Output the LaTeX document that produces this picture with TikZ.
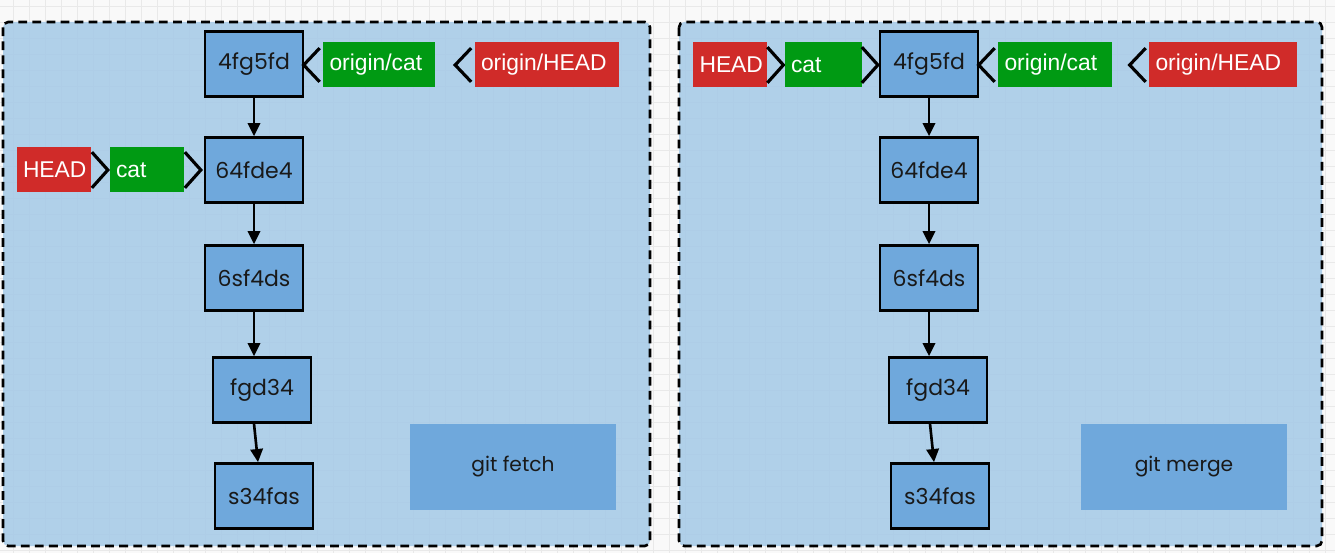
\documentclass[tikz,border=0pt]{standalone}
\usepackage{fontspec}
\setmainfont{Liberation Sans}
\newfontfamily\handfont{Poppins}
\usepackage{tikz}
\usetikzlibrary{arrows.meta}
\definecolor{paper}{HTML}{F9F9F9}
\definecolor{gridgray}{HTML}{E9E9E9}
\definecolor{panelblue}{HTML}{A4C9E7}
\definecolor{commitblue}{HTML}{6FA8DC}
\definecolor{tagred}{HTML}{D02B29}
\definecolor{taggreen}{HTML}{009A13}
\tikzset{
  commit/.style={draw, line width=1.5pt, fill=commitblue, minimum width=1.96cm, minimum height=1.3cm,
    inner sep=0pt, font=\handfont\fontsize{12.5}{14}\selectfont, text=black!90},
  tagbox/.style={inner xsep=0.13cm, inner ysep=0pt, minimum height=0.9cm, align=left, text=white,
    font=\fontsize{13}{15}\selectfont},
  chevron/.style={line width=1.8pt, line join=miter},
  panel/.style={dashed, dash pattern=on 5pt off 3pt, line width=1.5pt, rounded corners=3pt,
    fill=panelblue, fill opacity=0.85, draw opacity=1},
  cmdbox/.style={fill=commitblue, minimum width=4.14cm, minimum height=1.72cm,
    font=\handfont\fontsize{11.5}{13}\selectfont, text=black!90},
  gridline/.style={gridgray, line width=0.5pt},
  parent/.style={-{Triangle[length=7.5pt,width=7pt]}, line width=1.5pt}
}
\newcommand{\gcommit}[3] {\node at (#1) (#2) [commit] {#3};}
\newcommand{\gparent}[2] {\draw [parent] (#1) -- (#2);}
\newcommand{\tagright}[5] {\node at (#1) (#2) [tagbox, fill=#4, text width=#5] {#3};
  \draw [chevron] ([yshift=-0.1cm]#2.north east) -- ([xshift=0.32cm]#2.east) -- ([yshift=0.1cm]#2.south east);}
\newcommand{\tagleft}[5] {\node at (#1) (#2) [tagbox, fill=#4, text width=#5] {#3};
  \draw [chevron] ([xshift=-0.06cm,yshift=-0.12cm]#2.north west) -- ([xshift=-0.38cm]#2.west) -- ([xshift=-0.06cm,yshift=0.12cm]#2.south west);}

\begin{document}
\begin{tikzpicture}[x=0.02cm, y=-0.02cm]
\useasboundingbox (0,0) rectangle (1335,553);
\fill [paper] (0,0) rectangle (1335,553);
\foreach \gx in {13,29,...,1335} \draw [gridline] (\gx,0) -- (\gx,553);
\foreach \gy in {6,22,...,553} \draw [gridline] (0,\gy) -- (1335,\gy);

% git fetch
\draw [panel] (3,22) rectangle (650,546);
\gcommit {254,64}  {La} {4fg5fd};
\gcommit {254,170} {Lb} {64fde4};
\gcommit {254,278} {Lc} {6sf4ds};
\gcommit {262,390} {Ld} {fgd34};
\gcommit {264,496} {Le} {s34fas};
\gparent{La.south}{Lb.north};
\gparent{Lb.south}{Lc.north};
\gparent{Lc.south}{Lc.south |- Ld.north};
\gparent{[xshift=-0.16cm]Ld.south}{[xshift=-0.12cm]Le.north};
\tagleft  {379,65}  {Lorigincat}  {origin/cat}  {taggreen} {1.98cm};
\tagleft  {547,65}  {Loriginhead} {origin/HEAD} {tagred}   {2.64cm};
\tagright {54,170}  {Lhead}       {HEAD}        {tagred}   {1.24cm};
\tagright {147,170} {Lcat}        {cat}         {taggreen} {1.24cm};
\node at (513,467) (fetch) [cmdbox] {git fetch};

% git merge
\draw [panel] (679,22) rectangle (1322,546);
\gcommit {929,64}  {Ra} {4fg5fd};
\gcommit {929,170} {Rb} {64fde4};
\gcommit {929,278} {Rc} {6sf4ds};
\gcommit {938,390} {Rd} {fgd34};
\gcommit {940,496} {Re} {s34fas};
\gparent{Ra.south}{Rb.north};
\gparent{Rb.south}{Rc.north};
\gparent{Rc.south}{Rc.south |- Rd.north};
\gparent{[xshift=-0.16cm]Rd.south}{[xshift=-0.12cm]Re.north};
\tagright {730,65}  {Rhead}       {HEAD}        {tagred}   {1.22cm};
\tagright {823,65}  {Rcat}        {cat}         {taggreen} {1.28cm};
\tagleft  {1055,65} {Rorigincat}  {origin/cat}  {taggreen} {2.02cm};
\tagleft  {1223,65} {Roriginhead} {origin/HEAD} {tagred}   {2.7cm};
\node at (1184,467) (merge) [cmdbox] {git merge};
%\gparent{Rhead}{Rcat};
\end{tikzpicture}
\end{document}
